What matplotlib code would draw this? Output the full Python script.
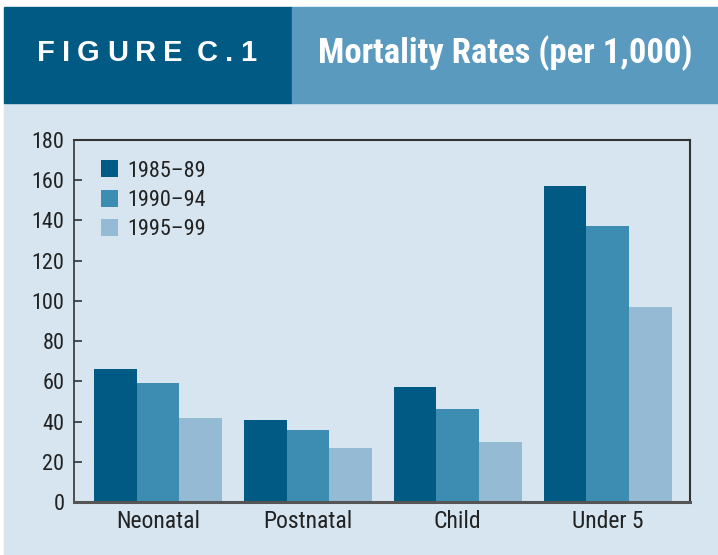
import numpy as np
import matplotlib.pyplot as plt
from matplotlib.patches import Rectangle

categories = ['Neonatal', 'Postnatal', 'Child', 'Under 5']
periods = ['1985–89', '1990–94', '1995–99']
rates_8589 = [66, 41, 57, 157]
rates_9094 = [59, 36, 46, 137]
rates_9599 = [42, 27, 30, 97]
yticks = [0, 20, 40, 60, 80, 100, 120, 140, 160, 180]

colors = ['#005a84', '#3d8db2', '#95bad4']
bg = '#d6e5ef'
cond = ['Roboto Condensed', 'DejaVu Sans']

W, H = 718, 555
fig = plt.figure(figsize=(W / 100, H / 100), dpi=100, facecolor='white')
renderer = fig.canvas.get_renderer()


def fit_text(x, y, s, width_px, **kw):
    # put text at pixel x (left) and scale its size so it spans width_px
    t = fig.text(x / W, (H - y) / H, s, va='center', ha='left', **kw)
    w = t.get_window_extent(renderer).width
    t.set_fontsize(t.get_fontsize() * width_px / w)
    return t


def tracked_text(x, y, s, width_px, **kw):
    # letter-spaced text: same font size, extra gap between glyphs to fill width_px
    parts = [fig.text(0, (H - y) / H, c, va='center', ha='left', **kw) for c in s]
    widths = [p.get_window_extent(renderer).width if c != ' ' else 0
              for p, c in zip(parts, s)]
    gap = (width_px - sum(widths)) / (len(s) - 1)
    pos = x
    for p, wd in zip(parts, widths):
        p.set_x(pos / W)
        pos += wd + gap


# background panel and header bands
fig.add_artist(Rectangle((4 / W, 0), 1, (H - 103) / H, transform=fig.transFigure,
                         color=bg, zorder=0))
fig.add_artist(Rectangle((4 / W, (H - 103) / H), (292 - 4) / W, 96 / H,
                         transform=fig.transFigure, color='#005a84', zorder=0))
fig.add_artist(Rectangle((292 / W, (H - 103) / H), (W - 292) / W, 96 / H,
                         transform=fig.transFigure, color='#5b9abf', zorder=0))
tracked_text(37, 53, 'FIGURE C.1', 219, color='white', fontsize=21,
             fontweight='bold', family=['Liberation Sans', 'DejaVu Sans'])
fit_text(318, 53, 'Mortality Rates (per 1,000)', 374, color='white', fontsize=19,
         fontweight='bold', family=cond)

ax = fig.add_axes([74 / W, (H - 502) / H, (690 - 74) / W, (502 - 140) / H])
ax.set_facecolor(bg)

x = np.arange(len(categories))
w = 0.285
for i, (vals, lab) in enumerate(zip([rates_8589, rates_9094, rates_9599], periods)):
    ax.bar(x + (i - 1) * w, vals, w, color=colors[i], label=lab, zorder=2)

ax.set_xlim(-0.561, 3.55)
ax.set_ylim(0, 180)
ax.set_yticks(yticks)
ax.set_xticks(x)
ax.set_xticklabels(categories)
ax.tick_params(axis='y', direction='in', length=6, width=1.2, color='#333333',
               labelsize=16, pad=7, labelcolor='#222222')
ax.tick_params(axis='x', length=0, labelsize=17, pad=6, labelcolor='#222222')
for lbl in ax.get_xticklabels() + ax.get_yticklabels():
    lbl.set_family(cond)

for s in ['top', 'right']:
    ax.spines[s].set_color('#333333')
    ax.spines[s].set_linewidth(1.5)
ax.spines['left'].set_color('#333333')
ax.spines['left'].set_linewidth(1.2)
ax.spines['bottom'].set_color('#555555')
ax.spines['bottom'].set_linewidth(2.2)
ax.spines['bottom'].set_zorder(3)

leg = ax.legend(loc='upper left', bbox_to_anchor=(0.029, 0.968), borderaxespad=0,
                frameon=False, prop={'family': cond, 'size': 16},
                handlelength=0.78, handleheight=0.8, handletextpad=0.42,
                labelspacing=0.36)
for t in leg.get_texts():
    t.set_color('#222222')

fig.savefig('out.png', dpi=100, facecolor=fig.get_facecolor())
